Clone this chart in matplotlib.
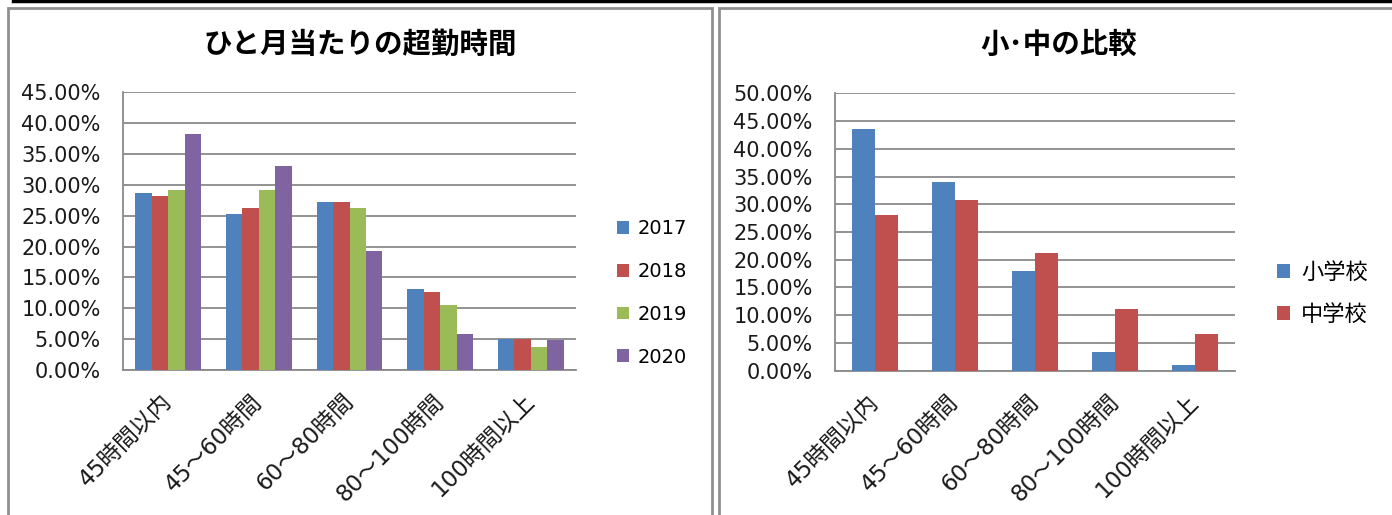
import matplotlib
matplotlib.use("Agg")
import matplotlib.pyplot as plt
from matplotlib.patches import Rectangle, Patch
from matplotlib.lines import Line2D
from matplotlib.ticker import FuncFormatter, MultipleLocator
import numpy as np

plt.rcParams['font.family'] = ['DejaVu Sans', 'Noto Sans CJK JP']

# ---- data (percent) ----
categories = ["45時間以内", "45～60時間", "60～80時間", "80～100時間", "100時間以上"]

years = ["2017", "2018", "2019", "2020"]
y2017 = [28.7, 25.2, 27.2, 13.1, 5.1]
y2018 = [28.2, 26.3, 27.2, 12.7, 5.1]
y2019 = [29.2, 29.2, 26.2, 10.6, 3.8]
y2020 = [38.3, 33.0, 19.3, 5.8, 4.85]

schools = ["小学校", "中学校"]
elementary = [43.5, 34.1, 18.0, 3.4, 1.0]
junior_high = [28.1, 30.8, 21.3, 11.1, 6.7]

title_left = "ひと月当たりの超勤時間"
title_right = "小･中の比較"

# ---- style ----
C_BLUE, C_RED, C_GREEN, C_PURPLE = "#4F81BD", "#C0504D", "#9BBB59", "#8064A2"
GRID = "#8a8a8a"
FRAME = "#8f8f8f"

W, H = 1392, 515
fig = plt.figure(figsize=(W / 100, H / 100), dpi=100)


def fx(px):
    return px / W


def fy(py):
    return 1 - py / H


def make_axes(x0, x1, y_top, y_bot):
    return fig.add_axes([fx(x0), fy(y_bot), fx(x1 - x0), (y_bot - y_top) / H])


def style_axes(ax, ymax):
    ax.set_ylim(0, ymax)
    ax.set_xlim(-0.5, len(categories) - 0.5)
    ax.yaxis.set_major_locator(MultipleLocator(5))
    ax.yaxis.set_major_formatter(FuncFormatter(lambda v, p: f"{v:.2f}%"))
    ax.grid(axis='y', color=GRID, linewidth=1.3)
    ax.set_axisbelow(True)
    for s in ("top", "right"):
        ax.spines[s].set_visible(False)
    for s in ("left", "bottom"):
        ax.spines[s].set_color(GRID)
        ax.spines[s].set_linewidth(1.3)
    ax.tick_params(axis='y', length=0, pad=16, labelsize=15, colors="#1a1a1a")
    ax.tick_params(axis='x', length=0, pad=20, labelsize=16.5, colors="#1a1a1a")
    ax.set_xticks(np.arange(len(categories)))
    ax.set_xticklabels(categories)
    for lab in ax.get_xticklabels():
        lab.set_rotation(45)
        lab.set_ha('right')
        lab.set_va('center')
        lab.set_rotation_mode('anchor')


x = np.arange(len(categories))

# ---- left chart: by year ----
ax1 = make_axes(123, 576, 92.3, 370)
series = [y2017, y2018, y2019, y2020]
colors4 = [C_BLUE, C_RED, C_GREEN, C_PURPLE]
bw = 1 / 5.5
for i, (vals, col) in enumerate(zip(series, colors4)):
    ax1.bar(x + (i - 1.5) * bw, vals, width=bw, color=col, edgecolor='none', zorder=3)
style_axes(ax1, 45)

handles1 = [Patch(facecolor=c, edgecolor='none') for c in colors4]
fig.legend(handles1, years, loc='center left',
           bbox_to_anchor=(fx(617), fy(293)), bbox_transform=fig.transFigure,
           frameon=False, borderpad=0, borderaxespad=0, fontsize=14,
           handlelength=0.62, handleheight=0.62, handletextpad=0.45,
           labelspacing=1.22)

fig.text(fx(360), fy(45), title_left, ha='center', va='center',
         fontsize=20.5, fontweight='bold', family=['Noto Sans CJK JP'])

# ---- right chart: elementary vs junior high ----
ax2 = make_axes(835, 1235, 93.3, 370.7)
bw2 = 1 / 3.5
ax2.bar(x - 0.5 * bw2, elementary, width=bw2, color=C_BLUE, edgecolor='none', zorder=3)
ax2.bar(x + 0.5 * bw2, junior_high, width=bw2, color=C_RED, edgecolor='none', zorder=3)
style_axes(ax2, 50)

handles2 = [Patch(facecolor=c, edgecolor='none') for c in (C_BLUE, C_RED)]
fig.legend(handles2, schools, loc='center left',
           bbox_to_anchor=(fx(1277), fy(293)), bbox_transform=fig.transFigure,
           frameon=False, borderpad=0, borderaxespad=0, fontsize=16,
           handlelength=0.58, handleheight=0.58, handletextpad=0.5,
           labelspacing=0.95)

fig.text(fx(1059), fy(45), title_right, ha='center', va='center',
         fontsize=20.5, fontweight='bold', family=['Noto Sans CJK JP'])

# ---- panel frames ----
fig.add_artist(Rectangle((fx(8), fy(560)), fx(704), (560 - 8) / H,
                         transform=fig.transFigure, fill=False,
                         edgecolor=FRAME, linewidth=2.0))
fig.add_artist(Rectangle((fx(719), fy(560)), fx(720), (560 - 8) / H,
                         transform=fig.transFigure, fill=False,
                         edgecolor=FRAME, linewidth=2.0))
fig.add_artist(Line2D([fx(13), fx(1392)], [fy(1), fy(1)],
                      transform=fig.transFigure, color="black", linewidth=2.5))

fig.savefig("out.png", dpi=100, facecolor="white")
